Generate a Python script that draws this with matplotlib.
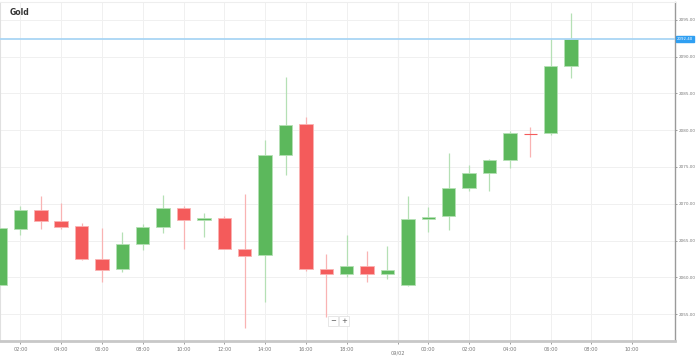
import numpy as np
import matplotlib.pyplot as plt
from matplotlib.transforms import blended_transform_factory

# hourly gold candles
opens = [2058.9, 2066.6, 2069.2, 2067.6, 2067.0, 2062.5, 2061.1, 2064.5, 2066.8, 2069.4,
         2067.8, 2068.0, 2063.9, 2063.0, 2076.6, 2080.8, 2061.1, 2060.4, 2061.6, 2060.5,
         2058.9, 2067.9, 2068.3, 2072.2, 2074.2, 2075.9, 2079.6, 2079.6, 2088.8]
highs = [2066.7, 2069.7, 2071.0, 2070.1, 2067.4, 2066.7, 2066.1, 2067.2, 2071.2, 2069.7,
         2068.7, 2068.4, 2071.3, 2078.7, 2087.2, 2081.8, 2063.2, 2065.7, 2063.6, 2064.3,
         2071.0, 2069.6, 2076.9, 2075.3, 2076.1, 2079.9, 2080.4, 2092.6, 2095.9]
lows = [2058.9, 2065.8, 2066.5, 2066.6, 2062.4, 2059.4, 2060.7, 2063.7, 2066.0, 2063.9,
        2065.5, 2063.9, 2053.1, 2056.6, 2073.9, 2060.9, 2054.6, 2060.1, 2059.4, 2059.8,
        2058.8, 2066.2, 2066.4, 2071.8, 2071.8, 2074.8, 2076.4, 2079.4, 2087.1]
closes = [2066.7, 2069.1, 2067.6, 2066.9, 2062.5, 2061.0, 2064.5, 2066.8, 2069.4, 2067.8,
          2068.1, 2063.9, 2062.9, 2076.7, 2080.7, 2061.1, 2060.4, 2061.5, 2060.5, 2061.0,
          2067.9, 2068.2, 2072.2, 2074.2, 2075.9, 2079.6, 2079.5, 2088.8, 2092.4]

tick_pos = [1, 3, 5, 7, 9, 11, 13, 15, 17, 21, 23, 25, 27, 29, 31]
tick_labels = ['02:00', '04:00', '06:00', '08:00', '10:00', '12:00', '14:00', '16:00', '18:00',
               '00:00', '02:00', '04:00', '06:00', '08:00', '10:00']
date_pos = 19.5
date_label = '09/02'
y_ticks = [2055, 2060, 2065, 2070, 2075, 2080, 2085, 2090, 2095]
last_price = closes[-1]

green = '#5cb85c'
red = '#f45b5b'
green_light = '#b5e0b5'
red_light = '#f9b3b3'

fig = plt.figure(figsize=(6.99, 3.58), dpi=100)
ax = fig.add_axes([0, 0.0475, 0.9657, 0.947])

x = np.arange(len(opens))
o = np.array(opens)
h = np.array(highs)
l = np.array(lows)
c = np.array(closes)
up = c >= o
cols = np.where(up, green, red)
wick_cols = np.where(up, green_light, red_light)

ax.vlines(x, l, h, colors=wick_cols, linewidth=0.9, zorder=2)
body_h = np.maximum(np.abs(c - o), 0.15)
body_b = np.minimum(o, c)
for i in range(len(x)):
    if abs(c[i] - o[i]) < 0.15 and not up[i]:
        ax.hlines(c[i], x[i] - 0.33, x[i] + 0.33, colors=red, linewidth=0.8, zorder=3)
    else:
        ax.bar(x[i], body_h[i], bottom=body_b[i], width=0.66, color=cols[i],
               edgecolor=wick_cols[i], linewidth=0.6, zorder=3)

# current price line
ax.axhline(last_price, color='#a9d5f5', linewidth=1.3, zorder=4)
ax.text(1.003, last_price, f'{last_price:.2f}', transform=ax.get_yaxis_transform(),
        fontsize=2.8, color='white', va='center', ha='left', clip_on=False,
        bbox=dict(boxstyle='square,pad=0.3', fc='#2f9ff2', ec='#2f9ff2'))

ax.set_xlim(0, 33.1)
ax.set_ylim(2051.33, 2097.45)

ax.set_xticks(tick_pos + [date_pos])
ax.set_xticklabels(tick_labels + [''])
ax.set_yticks(y_ticks)
ax.set_yticklabels([f'{v:.2f}' for v in y_ticks])
ax.yaxis.tick_right()
ax.tick_params(axis='x', labelsize=3.6, colors='#777777', length=2, width=0.5, pad=2)
ax.tick_params(axis='y', labelsize=3.0, colors='#777777', length=1.5, width=0.5, pad=1)

# date marker below the axis
trans = blended_transform_factory(ax.transData, fig.transFigure)
ax.text(date_pos, 1 - 353 / 358, date_label, transform=trans, fontsize=3.6, color='#777777',
        ha='center', va='center', clip_on=False)

ax.grid(True, color='#f0f0f0', linewidth=0.7, zorder=0)
ax.axvline(date_pos, color='#e2e2e2', linewidth=0.8, zorder=0)
ax.set_axisbelow(True)

ax.spines['right'].set_color('#9a9a9a')
ax.spines['right'].set_linewidth(1.0)
ax.spines['bottom'].set_color('#c8c8c8')
ax.spines['bottom'].set_linewidth(2.0)
ax.spines['left'].set_color('#e0e0e0')
ax.spines['left'].set_linewidth(0.8)
ax.spines['top'].set_color('#eeeeee')
ax.spines['top'].set_linewidth(0.8)

fig.text(0.014, 0.965, 'Gold', fontsize=5.5, fontweight='bold', color='#333333', va='center')

# zoom buttons
for txt, px in [('−', 333), ('+', 344)]:
    fig.text(px / 699, 1 - 321 / 358, txt, fontsize=5, color='#555555', ha='center', va='center',
             bbox=dict(boxstyle='square,pad=0.25', fc='white', ec='#dddddd', lw=0.5))

fig.savefig('out.png', dpi=100)
